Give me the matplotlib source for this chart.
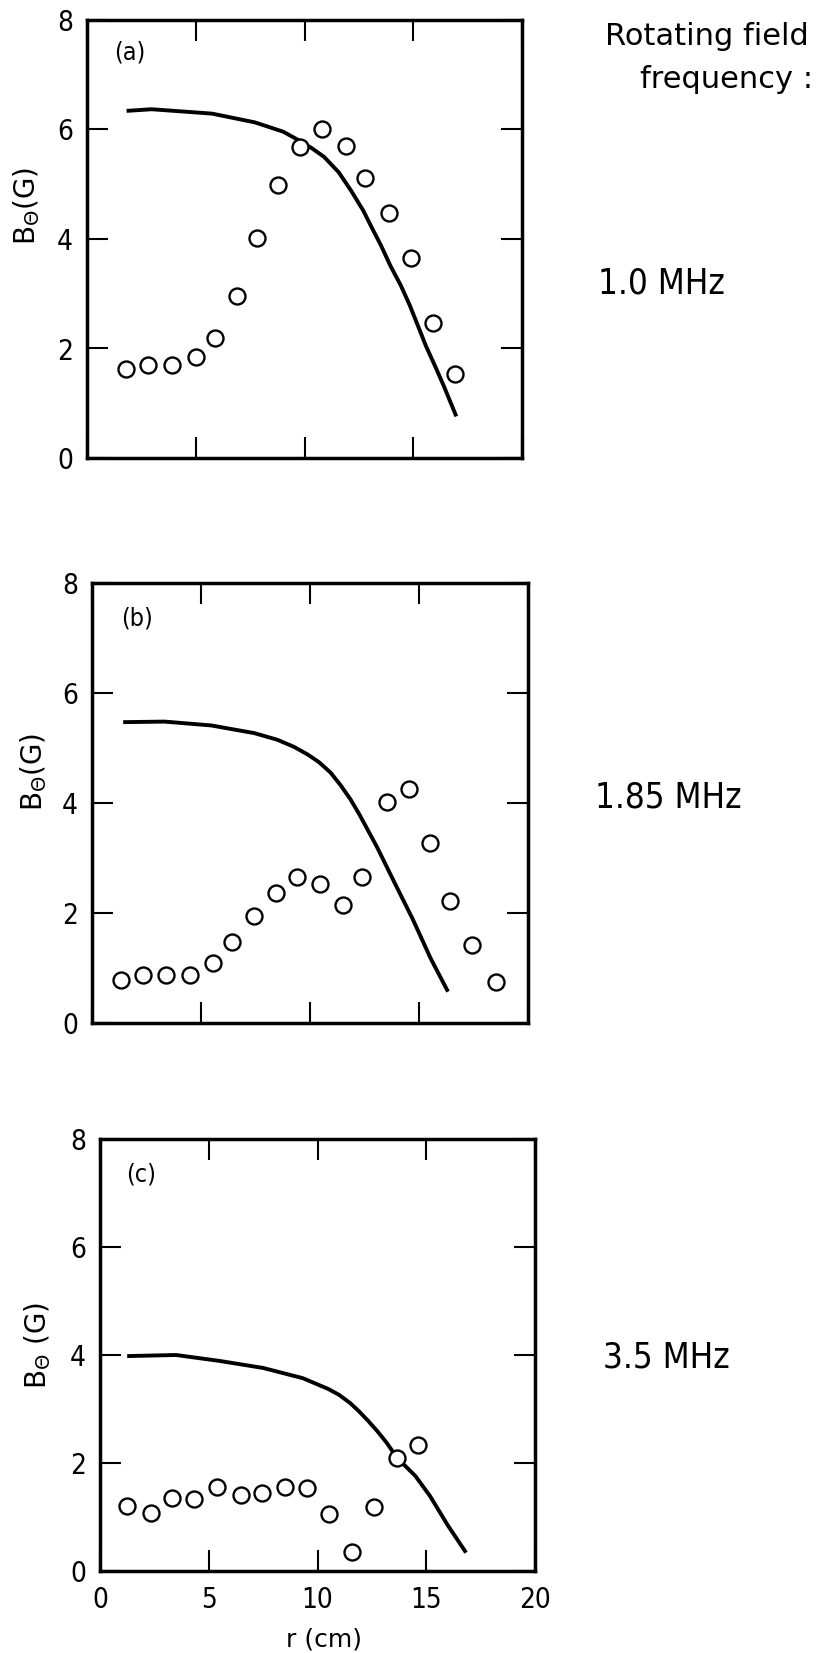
import matplotlib
matplotlib.use("Agg")
import matplotlib.pyplot as plt

# data: r (cm), B_theta (G)
r_meas_a = [1.8, 2.8, 3.9, 5.0, 5.9, 6.9, 7.8, 8.8, 9.8, 10.8, 11.9, 12.8, 13.9, 14.9, 15.9, 16.9]
b_meas_a = [1.63, 1.69, 1.69, 1.84, 2.20, 2.96, 4.02, 4.98, 5.68, 6.01, 5.69, 5.11, 4.48, 3.65, 2.47, 1.54]
r_calc_a = [1.82, 2.97, 5.75, 7.72, 9.02, 9.75, 10.33, 10.9, 11.57, 12.13, 12.70, 13.13, 13.52,
            13.95, 14.43, 14.85, 15.25, 15.59, 16.07, 16.41, 16.98]
b_calc_a = [6.34, 6.37, 6.29, 6.13, 5.96, 5.80, 5.66, 5.50, 5.22, 4.89, 4.52, 4.18, 3.88,
            3.51, 3.15, 2.78, 2.38, 2.04, 1.62, 1.31, 0.76]

r_meas_b = [1.31, 2.33, 3.41, 4.48, 5.54, 6.41, 7.45, 8.44, 9.40, 10.45, 11.51, 12.40, 13.51, 14.55,
            15.50, 16.40, 17.43, 18.51]
b_meas_b = [0.78, 0.87, 0.87, 0.87, 1.10, 1.47, 1.94, 2.36, 2.66, 2.52, 2.14, 2.66, 4.02, 4.26,
            3.27, 2.22, 1.42, 0.75]
r_calc_b = [1.43, 3.33, 5.47, 7.45, 8.5, 9.27, 9.9, 10.42, 10.95, 11.41, 11.85, 12.24, 13.06,
            13.88, 14.71, 15.54, 16.33]
b_calc_b = [5.47, 5.48, 5.41, 5.27, 5.15, 5.02, 4.88, 4.74, 4.55, 4.32, 4.07, 3.81, 3.21,
            2.55, 1.89, 1.17, 0.57]

r_meas_c = [1.22, 2.33, 3.33, 4.33, 5.37, 6.47, 7.47, 8.50, 9.53, 10.53, 11.58, 12.62, 13.67, 14.63]
b_meas_c = [1.20, 1.07, 1.36, 1.34, 1.56, 1.41, 1.45, 1.56, 1.53, 1.05, 0.36, 1.18, 2.10, 2.33]
r_calc_c = [1.25, 3.5, 5.5, 7.5, 9.33, 10.5, 11.0, 11.5, 11.9, 12.33, 12.75, 13.17, 13.67, 14.5,
            15.17, 16.0, 16.83]
b_calc_c = [3.98, 4.0, 3.89, 3.76, 3.57, 3.37, 3.26, 3.11, 2.96, 2.78, 2.59, 2.38, 2.09, 1.76,
            1.39, 0.84, 0.34]

panel_tags = ['(a)', '(b)', '(c)']
freq_labels = ['1.0 MHz', '1.85 MHz', '3.5 MHz']
x_ticks = [0, 5, 10, 15, 20]
y_ticks = [0, 2, 4, 6, 8]

W, H = 836, 1653
fig = plt.figure(figsize=(W / 100, H / 100), dpi=100)


def rect(x0, y0, x1, y1):
    # pixel box (top-left origin) -> figure fraction
    return [x0 / W, 1 - y1 / H, (x1 - x0) / W, (y1 - y0) / H]


boxes = [rect(87, 20, 522, 458), rect(92, 583, 528, 1023), rect(100, 1139, 535, 1571)]
ylab_pos = [(-0.138, 0.575), (-0.133, 0.570), (-0.143, 0.521)]
tag_pos = [(0.098, 0.925), (0.103, 0.920), (0.094, 0.917)]
ylabels = [r'B$_{\Theta}$(G)', r'B$_{\Theta}$(G)', r'B$_{\Theta}$ (G)']
freq_xy = [(598, 293), (595, 808), (603, 1368)]

meas = [(r_meas_a, b_meas_a), (r_meas_b, b_meas_b), (r_meas_c, b_meas_c)]
calc = [(r_calc_a, b_calc_a), (r_calc_b, b_calc_b), (r_calc_c, b_calc_c)]

for i in range(3):
    ax = fig.add_axes(boxes[i])
    ax.plot(calc[i][0], calc[i][1], color='black', lw=2.8, solid_capstyle='butt',
            solid_joinstyle='round', zorder=2)
    ax.plot(meas[i][0], meas[i][1], 'o', ms=11.5, mfc='white', mec='black', mew=1.7, zorder=3,
            clip_on=False)
    ax.set_xlim(0, 20)
    ax.set_ylim(0, 8)
    ax.set_xticks(x_ticks)
    ax.set_yticks(y_ticks)
    ax.tick_params(direction='in', length=15, width=1.5, top=True, right=True,
                   labelsize=20, color='black')
    ax.tick_params(axis='y', pad=10)
    ax.tick_params(axis='x', pad=11)
    for lbl in ax.get_xticklabels() + ax.get_yticklabels():
        lbl.set_fontstretch('condensed')
    if i < 2:
        ax.set_xticklabels([])
    for sp in ax.spines.values():
        sp.set_linewidth(2.5)
    ax.set_ylabel(ylabels[i], fontsize=20)
    ax.yaxis.label.set_va('center')
    ax.yaxis.set_label_coords(*ylab_pos[i])
    ax.text(tag_pos[i][0], tag_pos[i][1], panel_tags[i], transform=ax.transAxes,
            ha='center', va='center', fontsize=18, fontstretch='condensed')
    fig.text(freq_xy[i][0] / W, 1 - freq_xy[i][1] / H, freq_labels[i], fontsize=25,
             fontstretch='condensed', ha='left', va='baseline')
    if i == 2:
        ax.set_xlabel('r (cm)', fontsize=18)
        ax.xaxis.set_label_coords(0.515, -0.130)
        ax.xaxis.label.set_va('top')

fig.text(605 / W, 1 - 45 / H, 'Rotating field', fontsize=22, ha='left', va='baseline')
fig.text(640 / W, 1 - 88 / H, 'frequency :', fontsize=22, ha='left', va='baseline')

fig.savefig('out.png', dpi=100)
